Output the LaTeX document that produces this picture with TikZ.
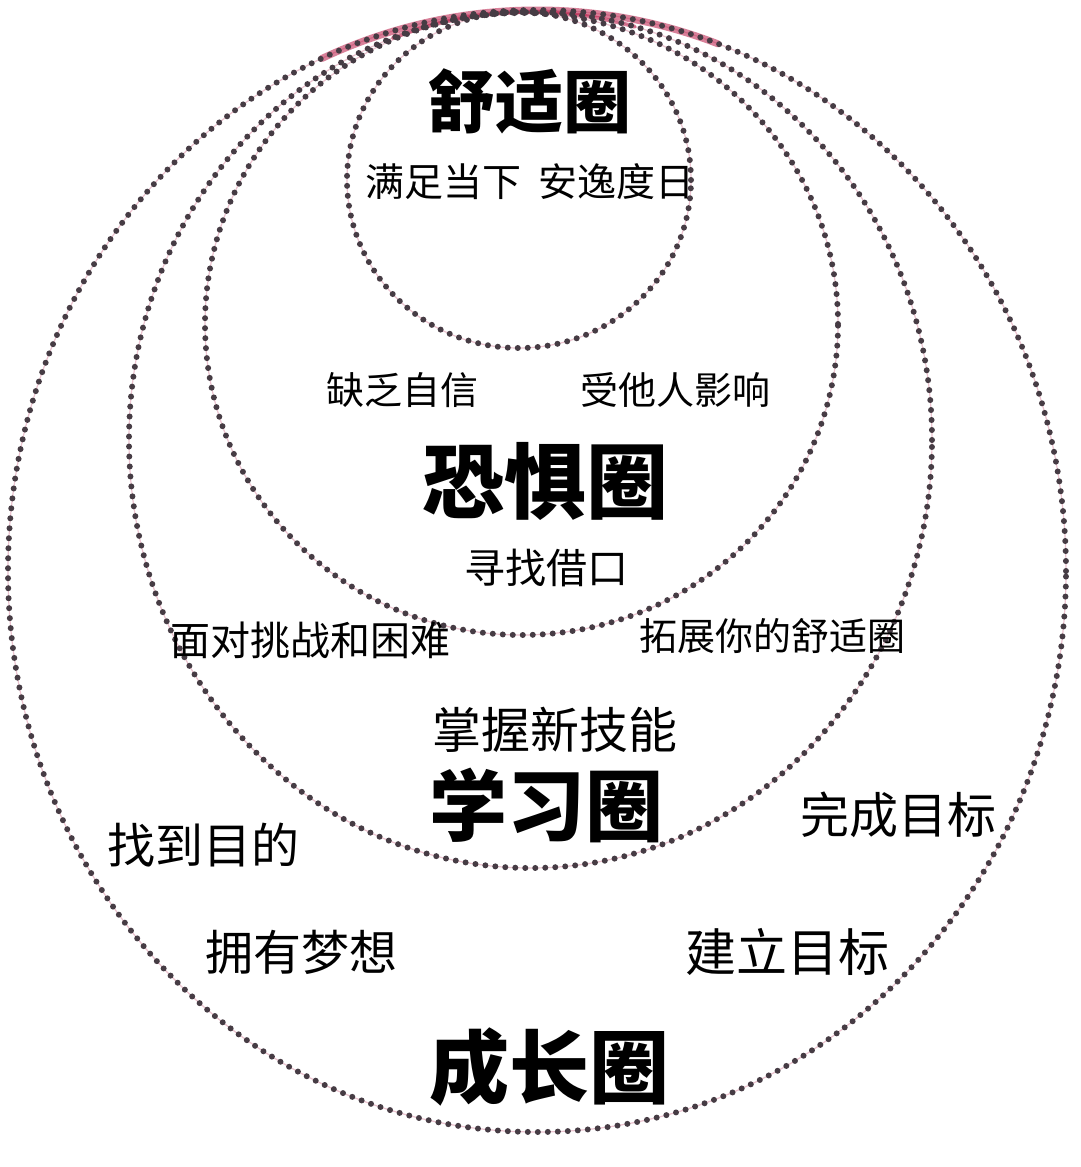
\documentclass[tikz,border=0pt]{standalone}
\usepackage{fontspec}
\newfontfamily\cjk{Noto Sans CJK SC}
\definecolor{dotcol}{RGB}{70,60,68}
\definecolor{halo}{RGB}{236,196,208}
\definecolor{band}{RGB}{185,25,70}
\tikzset{
  ring/.style={draw=dotcol, line width=6pt, line cap=round, dash pattern=on 0pt off 10pt},
  ringhalo/.style={draw=halo, line width=1.2pt},
  redband/.style={draw=band, line width=7pt, opacity=0.55, line cap=round},
  lbl/.style={font=\cjk, text=black, inner sep=0pt},
}
\newcommand{\fsz}[1]{\fontsize{#1}{#1}\selectfont}
\begin{document}
\begin{tikzpicture}[x=1pt,y=1pt]
\useasboundingbox[fill=white] (0,0) rectangle (1080,-1167);
% halos
\draw[ringhalo] (537,-571) ellipse [x radius=529pt, y radius=561pt];
\draw[ringhalo] (530.5,-440) ellipse [x radius=401.5pt, y radius=428pt];
\draw[ringhalo] (521.5,-324) ellipse [x radius=316.5pt, y radius=311pt];
\draw[ringhalo] (519,-180) ellipse [x radius=172pt, y radius=168pt];
% red band at the top where the rings meet
\draw[redband] (537,-571) ++(114:529pt and 561pt) arc[start angle=114, end angle=70, x radius=529pt, y radius=561pt];
\draw[redband, line width=4pt] (530.5,-440) ++(110:401.5pt and 428pt) arc[start angle=110, end angle=75, x radius=401.5pt, y radius=428pt];
% dotted rings
\draw[ring] (537,-571) ellipse [x radius=529pt, y radius=561pt];
\draw[ring] (530.5,-440) ellipse [x radius=401.5pt, y radius=428pt];
\draw[ring] (521.5,-324) ellipse [x radius=316.5pt, y radius=311pt];
\draw[ring] (519,-180) ellipse [x radius=172pt, y radius=168pt];
% titles
\node[lbl, font=\cjk\bfseries\fsz{68}] (comfort) at (529,-101) {舒适圈};
\node[lbl, font=\cjk\bfseries\fsz{82}] (fear) at (545,-481) {恐惧圈};
\node[lbl, font=\cjk\bfseries\fsz{78}] (learn) at (546,-805) {学习圈};
\node[lbl, font=\cjk\bfseries\fsz{80}] (grow) at (549,-1067) {成长圈};
% phrases
\node[lbl, font=\cjk\fsz{39}] (t1) at (530,-182) {满足当下\hspace{0.45em}安逸度日};
\node[lbl, font=\cjk\fsz{38}] (t2) at (402,-390) {缺乏自信};
\node[lbl, font=\cjk\fsz{38}] (t3) at (675,-390) {受他人影响};
\node[lbl, font=\cjk\fsz{41}] (t4) at (546,-568) {寻找借口};
\node[lbl, font=\cjk\fsz{40}] (t5) at (310,-640) {面对挑战和困难};
\node[lbl, font=\cjk\fsz{38}] (t6) at (772,-636) {拓展你的舒适圈};
\node[lbl, font=\cjk\fsz{49}] (t7) at (555,-730) {掌握新技能};
\node[lbl, font=\cjk\fsz{49}] (t8) at (898,-815) {完成目标};
\node[lbl, font=\cjk\fsz{48}] (t9) at (203,-845) {找到目的};
\node[lbl, font=\cjk\fsz{48}] (t10) at (301,-952) {拥有梦想};
\node[lbl, font=\cjk\fsz{51}] (t11) at (787,-952) {建立目标};
\end{tikzpicture}
\end{document}
